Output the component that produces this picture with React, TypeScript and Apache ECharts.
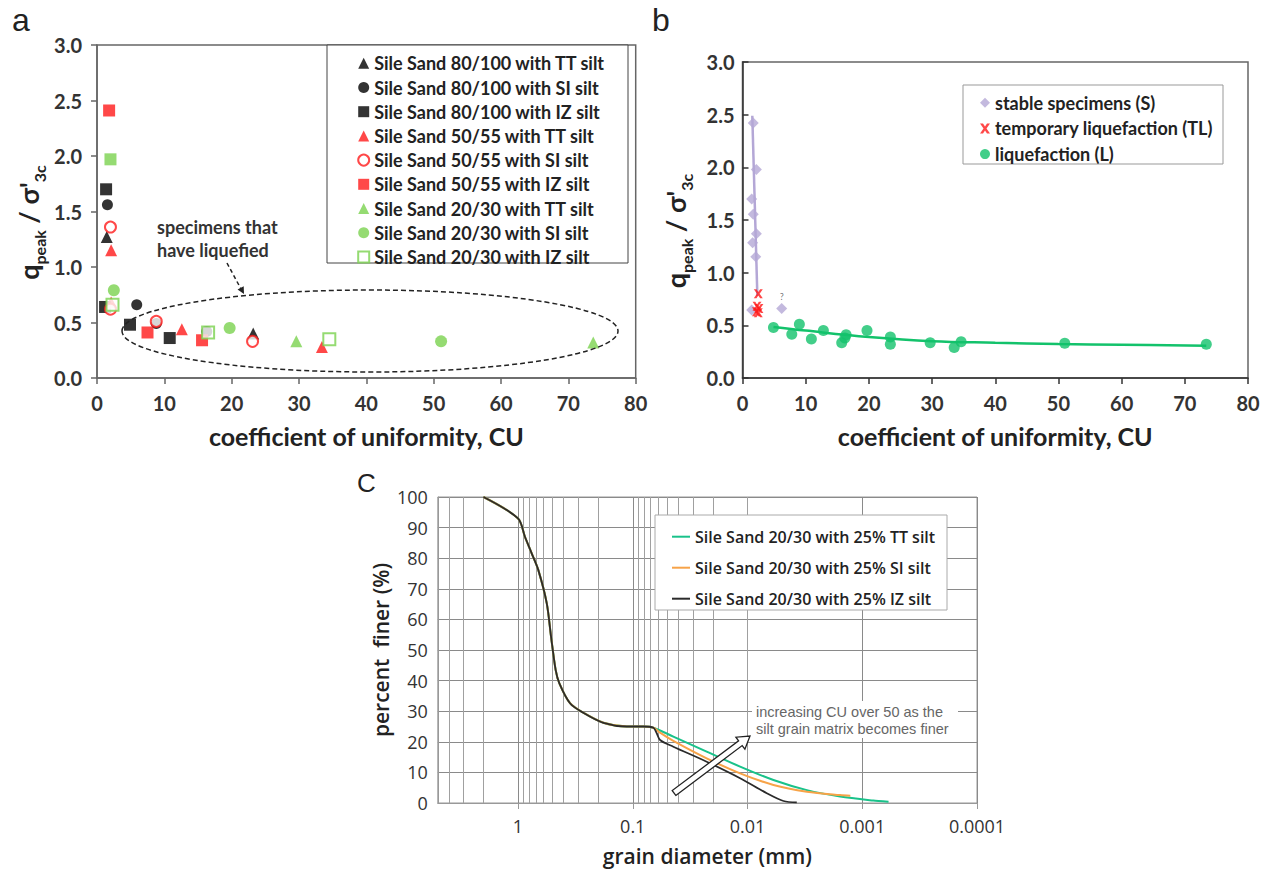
import React, { useEffect, useRef } from 'react';
import * as echarts from 'echarts';

// ---------- Panel a: q_peak / sigma'_3c vs CU, by sand/silt mix ----------
const a8TT = [[1.45, 1.27], [23.2, 0.40]];
const a8SI = [[1.55, 1.56], [5.9, 0.66], [8.8, 0.49], [16.3, 0.42]];
const a8IZ = [[1.35, 1.70], [1.2, 0.64], [4.9, 0.48], [10.8, 0.36]];
const a5TT = [[2.1, 1.15], [2.1, 0.68], [12.6, 0.44], [33.4, 0.28]];
const a5SI = [[2.0, 1.36], [2.0, 0.62], [8.8, 0.51], [23.1, 0.33]];
const a5IZ = [[1.8, 2.41], [7.5, 0.41], [15.6, 0.34]];
const a2TT = [[29.6, 0.33], [73.7, 0.32]];
const a2SI = [[2.5, 0.79], [19.7, 0.45], [51.1, 0.33]];
const a2IZ = [[2.0, 1.97], [2.3, 0.66], [16.5, 0.41], [34.5, 0.35]];

// ---------- Panel b: classified by behaviour ----------
const bStable = [[1.7, 2.42], [2.2, 1.98], [1.45, 1.70], [1.7, 1.555], [2.2, 1.37], [1.6, 1.285], [2.1, 1.15], [1.45, 0.645], [6.2, 0.66]];
const bStableTrend = [[1.55, 2.49], [2.35, 0.78]];
const bTL = [[2.5, 0.80], [2.3, 0.68], [2.6, 0.66], [2.2, 0.63], [2.5, 0.62]];
const bLiq = [[4.9, 0.48], [7.8, 0.415], [9.0, 0.51], [10.9, 0.37], [12.8, 0.45], [15.7, 0.335], [16.4, 0.41], [16.2, 0.38], [19.7, 0.45], [23.4, 0.39], [23.4, 0.32], [29.7, 0.335], [33.5, 0.29], [34.6, 0.345], [51.0, 0.33], [73.4, 0.32]];
const bLiqTrend = [[4.9, 0.485], [10, 0.45], [20, 0.39], [30, 0.35], [40, 0.335], [50, 0.323], [60, 0.315], [73.4, 0.307]];

// ---------- Panel c: grain size distribution ----------
const cTT = [[2, 100], [1.0, 93], [0.87, 87], [0.76, 81.6], [0.665, 76.1], [0.562, 65.3], [0.515, 54.3], [0.47, 43.5], [0.436, 39.1], [0.352, 32.6], [0.27, 29.5], [0.18, 26.2], [0.113, 25.0], [0.081, 25.0], [0.066, 24.6], [0.0443, 21.7], [0.0227, 16.8], [0.0116, 11.9], [0.00594, 7.5], [0.00304, 4.2], [0.00156, 2.1], [0.0008, 0.8], [0.00059, 0.4]];
const cSI = [[2, 100], [1.0, 93], [0.87, 87], [0.76, 81.6], [0.665, 76.1], [0.562, 65.3], [0.515, 54.3], [0.47, 43.5], [0.436, 39.1], [0.352, 32.6], [0.27, 29.5], [0.18, 26.2], [0.113, 25.0], [0.081, 25.0], [0.066, 24.6], [0.0578, 23.0], [0.0443, 20.3], [0.0227, 14.6], [0.0116, 9.7], [0.00594, 5.9], [0.00304, 3.7], [0.00156, 2.6], [0.00127, 2.4]];
const cIZ = [[2, 100], [1.0, 93], [0.87, 87], [0.76, 81.6], [0.665, 76.1], [0.562, 65.3], [0.515, 54.3], [0.47, 43.5], [0.436, 39.1], [0.352, 32.6], [0.27, 29.5], [0.18, 26.2], [0.113, 25.0], [0.081, 25.0], [0.066, 24.6], [0.0618, 22.8], [0.0578, 20.6], [0.0443, 18.4], [0.0227, 13.5], [0.0116, 8.1], [0.0068, 3.2], [0.00486, 0.65], [0.00372, 0.2]];
const cMinorMultipliers = [2, 3, 4, 5, 6, 7, 8, 9];
const cDecades = [0.0001, 0.001, 0.01, 0.1, 1];
const cXMin = 0.0001;
const cXMax = 5;

const GREEN_A = '#7bd24f';
const RED = '#ff1a1a';
const PURPLE = '#b4a7d6';
const GREEN_B = '#13c26b';
const AXIS = '#666';
const LATO = 'Lato';
const OPEN = 'Open Sans';

function blockArrow(x1: number, y1: number, x2: number, y2: number, sw: number, hw: number, hl: number) {
  const dx = x2 - x1, dy = y2 - y1, L = Math.hypot(dx, dy);
  const ux = dx / L, uy = dy / L, px = -uy, py = ux;
  const bx = x2 - ux * hl, by = y2 - uy * hl;
  return [
    [x1 + px * sw, y1 + py * sw], [bx + px * sw, by + py * sw], [bx + px * hw, by + py * hw], [x2, y2],
    [bx - px * hw, by - py * hw], [bx - px * sw, by - py * sw], [x1 - px * sw, y1 - py * sw],
  ];
}

function headPoints(x1: number, y1: number, x2: number, y2: number, hw: number, hl: number) {
  const dx = x2 - x1, dy = y2 - y1, L = Math.hypot(dx, dy);
  const ux = dx / L, uy = dy / L, px = -uy, py = ux;
  const bx = x2 - ux * hl, by = y2 - uy * hl;
  return [[x2, y2], [bx + px * hw, by + py * hw], [bx - px * hw, by - py * hw]];
}

const X_PATH = 'path://M0,0L3,0L5,3L7,0L10,0L6.5,5L10,10L7,10L5,7L3,10L0,10L3.5,5Z';

export default function App() {
  const ref = useRef<HTMLDivElement>(null);
  useEffect(() => {
    if (!ref.current) return;
    const chart = echarts.init(ref.current, undefined, { renderer: 'svg' });

    const tickLabelAB = { fontFamily: LATO, fontWeight: 'bold' as const, fontSize: 20, color: '#333' };
    const yNameStyle = {
      padding: [0, 22, 0, 0],
      rich: {
        q: { fontFamily: LATO, fontWeight: 'bold', fontSize: 27, color: '#222', lineHeight: 38, verticalAlign: 'middle' },
        s: { fontFamily: LATO, fontWeight: 'bold', fontSize: 16, color: '#222', lineHeight: 17, verticalAlign: 'bottom' },
      },
    };
    const yName = "{q|q}{s|peak}{q| / σ'}{s|3c}";
    const xNameStyle = { fontFamily: LATO, fontWeight: 'bold', fontSize: 25, color: '#222' };

    const aDefs = [
      { name: 'Sile Sand 80/100 with TT silt', data: a8TT, symbol: 'triangle', color: '#000', size: 12 },
      { name: 'Sile Sand 80/100 with SI silt', data: a8SI, symbol: 'circle', color: '#000', size: 11 },
      { name: 'Sile Sand 80/100 with IZ silt', data: a8IZ, symbol: 'rect', color: '#000', size: 12 },
      { name: 'Sile Sand 50/55 with TT silt', data: a5TT, symbol: 'triangle', color: RED, size: 12 },
      { name: 'Sile Sand 50/55 with SI silt', data: a5SI, symbol: 'emptyCircle', color: RED, size: 11 },
      { name: 'Sile Sand 50/55 with IZ silt', data: a5IZ, symbol: 'rect', color: RED, size: 12 },
      { name: 'Sile Sand 20/30 with TT silt', data: a2TT, symbol: 'triangle', color: GREEN_A, size: 12 },
      { name: 'Sile Sand 20/30 with SI silt', data: a2SI, symbol: 'circle', color: GREEN_A, size: 12 },
      { name: 'Sile Sand 20/30 with IZ silt', data: a2IZ, symbol: 'emptyRect', color: GREEN_A, size: 12 },
    ];
    // the first 20/30 IZ point is drawn filled in the reference
    const aSeries = aDefs.map((d) => ({
      type: 'scatter', name: d.name, xAxisIndex: 0, yAxisIndex: 0,
      symbol: d.symbol, symbolSize: d.size,
      itemStyle: { color: d.color, borderWidth: d.symbol.startsWith('empty') ? 2 : 0 },
      data: d.data.map((p, i) => (d === aDefs[8] && i === 0 ? { value: p, symbol: 'rect' } : p)),
      z: 3,
    }));

    const minorGrid: number[] = [];
    cDecades.forEach((dec) => cMinorMultipliers.forEach((m) => {
      const v = dec * m;
      if (v > cXMin && v < cXMax) minorGrid.push(v);
    }));

    const option: any = {
      animation: false,
      backgroundColor: '#fff',
      textStyle: { fontFamily: LATO },
      grid: [
        { left: 97, top: 45, width: 538.7, height: 333, show: true, borderColor: AXIS, borderWidth: 1.5, backgroundColor: 'transparent' },
        { left: 742.5, top: 62, width: 505.5, height: 316, show: true, borderColor: AXIS, borderWidth: 1.5, backgroundColor: 'transparent' },
        { left: 437.8, top: 497, width: 539.2, height: 306, show: true, borderColor: '#999', borderWidth: 1, backgroundColor: 'transparent' },
      ],
      xAxis: [
        {
          gridIndex: 0, type: 'value', min: 0, max: 80, interval: 10,
          name: 'coefficient of uniformity, CU', nameLocation: 'middle', nameGap: 45,
          nameTextStyle: xNameStyle,
          axisLine: { lineStyle: { color: AXIS, width: 1.5 } },
          axisTick: { lineStyle: { color: AXIS, width: 1.5 }, length: 6 },
          axisLabel: { ...tickLabelAB, margin: 15 },
          splitLine: { show: false },
        },
        {
          gridIndex: 1, type: 'value', min: 0, max: 80, interval: 10,
          name: 'coefficient of uniformity, CU', nameLocation: 'middle', nameGap: 45,
          nameTextStyle: xNameStyle,
          axisLine: { lineStyle: { color: '#333', width: 1.5 } },
          axisTick: { lineStyle: { color: '#333', width: 1.5 }, length: 6 },
          axisLabel: { ...tickLabelAB, margin: 15 },
          splitLine: { show: false },
        },
        {
          gridIndex: 2, type: 'log', logBase: 10, min: cXMin, max: cXMax, inverse: true,
          name: 'grain diameter (mm)', nameLocation: 'middle', nameGap: 42,
          nameTextStyle: { fontFamily: OPEN, fontWeight: 600, fontSize: 21, color: '#222' },
          axisLine: { lineStyle: { color: '#999', width: 1 } },
          axisTick: { lineStyle: { color: '#999' }, length: 6 },
          axisLabel: {
            fontFamily: OPEN, fontSize: 18, color: '#333', margin: 14, showMaxLabel: false,
            formatter: (v: number) => {
              const e = Math.round(Math.log10(v));
              return e >= 0 ? String(Math.round(v)) : v.toFixed(-e);
            },
          },
          splitLine: { show: true, lineStyle: { color: '#8a8a8a', width: 1 } },
        },
      ],
      yAxis: [
        {
          gridIndex: 0, type: 'value', min: 0, max: 3, interval: 0.5,
          name: yName, nameLocation: 'middle', nameGap: 50, nameTextStyle: yNameStyle,
          axisLine: { lineStyle: { color: AXIS, width: 1.5 } },
          axisTick: { lineStyle: { color: AXIS, width: 1.5 }, length: 6 },
          axisLabel: { ...tickLabelAB, margin: 15, formatter: (v: number) => v.toFixed(1) },
          splitLine: { show: false },
        },
        {
          gridIndex: 1, type: 'value', min: 0, max: 3, interval: 0.5,
          name: yName, nameLocation: 'middle', nameGap: 48, nameTextStyle: yNameStyle,
          axisLine: { lineStyle: { color: '#333', width: 1.5 } },
          axisTick: { lineStyle: { color: '#333', width: 1.5 }, length: 6, inside: true },
          axisLabel: { ...tickLabelAB, margin: 8, formatter: (v: number) => v.toFixed(1) },
          splitLine: { show: false },
        },
        {
          gridIndex: 2, type: 'value', min: 0, max: 100, interval: 10,
          name: 'percent  finer (%)', nameLocation: 'middle', nameGap: 46,
          nameTextStyle: { fontFamily: OPEN, fontWeight: 600, fontSize: 21, color: '#222' },
          axisLine: { lineStyle: { color: '#999', width: 1 } },
          axisTick: { show: false },
          axisLabel: { fontFamily: OPEN, fontSize: 18, color: '#333', margin: 10 },
          splitLine: { show: true, lineStyle: { color: '#8a8a8a', width: 1 } },
        },
      ],
      legend: [
        {
          left: 352.2, top: 49.3, orient: 'vertical', itemWidth: 11, itemHeight: 11, itemGap: 6.2,
          textStyle: { fontFamily: LATO, fontWeight: 'bold', fontSize: 18, color: '#222', lineHeight: 18 },
          data: aDefs.map((d) => d.name), selectedMode: false, z: 6,
        },
        {
          left: 975, top: 88.7, orient: 'vertical', itemWidth: 10, itemHeight: 10, itemGap: 7.7,
          textStyle: { fontFamily: LATO, fontWeight: 'bold', fontSize: 18, color: '#222', lineHeight: 18 },
          data: ['stable specimens (S)', 'temporary liquefaction (TL)', 'liquefaction (L)'], selectedMode: false, z: 6,
        },
        {
          left: 667, top: 523.7, orient: 'vertical', itemWidth: 18, itemHeight: 2, itemGap: 15, icon: 'rect',
          textStyle: { fontFamily: OPEN, fontWeight: 600, fontSize: 16, color: '#222', lineHeight: 16 },
          data: ['Sile Sand 20/30 with 25% TT silt', 'Sile Sand 20/30 with 25% SI silt', 'Sile Sand 20/30 with 25% IZ silt'],
          selectedMode: false, z: 6,
        },
      ],
      series: [
        ...aSeries,
        {
          type: 'line', name: 'stable trend', xAxisIndex: 1, yAxisIndex: 1, data: bStableTrend,
          symbol: 'none', lineStyle: { color: PURPLE, width: 2.5 }, z: 2,
        },
        {
          type: 'line', name: 'liquefaction trend', xAxisIndex: 1, yAxisIndex: 1, data: bLiqTrend,
          symbol: 'none', smooth: 0.4, lineStyle: { color: GREEN_B, width: 2.5 }, z: 2,
        },
        {
          type: 'scatter', name: 'stable specimens (S)', xAxisIndex: 1, yAxisIndex: 1, symbol: 'diamond', symbolSize: 11,
          itemStyle: { color: PURPLE },
          data: bStable.map((p, i) => (i === bStable.length - 1
            ? { value: p, label: { show: true, position: 'top', distance: 2, formatter: '?', fontSize: 9, color: '#555' } }
            : p)),
          z: 3,
        },
        {
          type: 'scatter', name: 'temporary liquefaction (TL)', xAxisIndex: 1, yAxisIndex: 1, symbol: X_PATH, symbolSize: 9,
          itemStyle: { color: RED }, data: bTL, z: 4,
        },
        {
          type: 'scatter', name: 'liquefaction (L)', xAxisIndex: 1, yAxisIndex: 1, symbol: 'circle', symbolSize: 11,
          itemStyle: { color: GREEN_B }, data: bLiq, z: 3,
        },
        {
          type: 'line', name: 'Sile Sand 20/30 with 25% TT silt', xAxisIndex: 2, yAxisIndex: 2, data: cTT,
          symbol: 'none', smooth: 0.3, lineStyle: { color: '#19c28a', width: 2 }, itemStyle: { color: '#19c28a' }, z: 3,
          markLine: {
            silent: true, symbol: ['none', 'none'], label: { show: false }, animation: false,
            lineStyle: { color: '#a0a0a0', width: 1, type: 'solid' },
            data: minorGrid.map((v) => ({ xAxis: v })), z: 1,
          },
        },
        {
          type: 'line', name: 'Sile Sand 20/30 with 25% SI silt', xAxisIndex: 2, yAxisIndex: 2, data: cSI,
          symbol: 'none', smooth: 0.3, lineStyle: { color: '#f7a348', width: 2 }, itemStyle: { color: '#f7a348' }, z: 3,
        },
        {
          type: 'line', name: 'Sile Sand 20/30 with 25% IZ silt', xAxisIndex: 2, yAxisIndex: 2, data: cIZ,
          symbol: 'none', smooth: 0.3, lineStyle: { color: '#2b2b2b', width: 1.8 }, itemStyle: { color: '#2b2b2b' }, z: 4,
        },
      ],
      graphic: [
        { type: 'text', left: 12, top: 4, style: { text: 'a', font: '32px "Liberation Sans", Arial', fill: '#222' } },
        { type: 'text', left: 652, top: 4, style: { text: 'b', font: '32px "Liberation Sans", Arial', fill: '#222' } },
        { type: 'text', left: 357, top: 470, style: { text: 'C', font: '26px "Liberation Sans", Arial', fill: '#222' } },
        // panel a legend frame
        { type: 'rect', shape: { x: 327, y: 45, width: 301, height: 218 }, style: { fill: '#fff', stroke: '#444', lineWidth: 1 }, z: 3 },
        // panel b legend frame
        { type: 'rect', shape: { x: 963, y: 85, width: 260, height: 79 }, style: { fill: '#fff', stroke: '#999', lineWidth: 1 }, z: 3 },
        // panel c legend frame
        { type: 'rect', shape: { x: 655, y: 515, width: 292, height: 95 }, style: { fill: '#fff', stroke: '#aaa', lineWidth: 1 }, z: 3 },
        // panel a annotation
        { type: 'ellipse', shape: { cx: 370, cy: 331, rx: 248, ry: 41 }, style: { fill: 'none', stroke: '#222', lineWidth: 1.5, lineDash: [5, 3] }, z: 5 },
        {
          type: 'text', left: 157, top: 215, z: 5,
          style: { text: 'specimens that\nhave liquefied', font: 'bold 18px Lato', fill: '#333', lineHeight: 23 },
        },
        { type: 'line', shape: { x1: 227, y1: 263, x2: 241, y2: 289 }, style: { stroke: '#222', lineWidth: 1.5, lineDash: [4, 3] }, z: 5 },
        { type: 'polygon', shape: { points: headPoints(227, 263, 244, 294, 3.5, 7) }, style: { fill: '#222' }, z: 5 },
        // panel c annotation
        { type: 'rect', shape: { x: 752, y: 701, width: 206, height: 37 }, style: { fill: '#fff', stroke: 'none' }, z: 3 },
        {
          type: 'text', left: 756, top: 703, z: 5,
          style: { text: 'increasing CU over 50 as the\nsilt grain matrix becomes finer', font: '14.5px "Liberation Sans", Arial', fill: '#666', lineHeight: 17 },
        },
        { type: 'polygon', shape: { points: blockArrow(674, 793, 750, 736, 3, 7.5, 12) }, style: { fill: '#fff', stroke: '#222', lineWidth: 1.3 }, z: 5 },
      ],
    };
    chart.setOption(option);
    return () => chart.dispose();
  }, []);
  return <div ref={ref} style={{ position: 'fixed', left: 0, top: 0, width: 1267, height: 876, background: '#fff' }} />;
}
